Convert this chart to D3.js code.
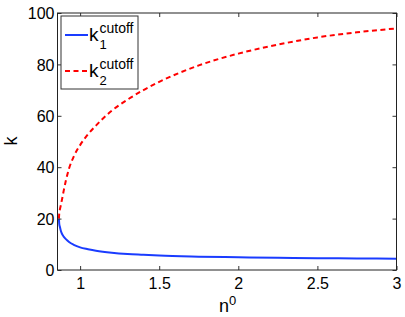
<!DOCTYPE html>
<html>
<head>
<meta charset="utf-8">
<script src="https://cdn.jsdelivr.net/npm/d3@7"></script>
<style>
  body { margin: 0; background: #fff; }
  text { font-family: "Liberation Sans", Arial, sans-serif; fill: #000; }
</style>
</head>
<body>
<svg width="405" height="317"></svg>
<script>
// n0 sample points and the two cutoff curves
var n0 = [0.866, 0.868, 0.872, 0.878, 0.886, 0.896, 0.91, 0.93, 0.96, 1.0, 1.05, 1.1, 1.2, 1.3, 1.4, 1.5, 1.75, 2.0, 2.25, 2.5, 2.75, 3.0];
var k1 = [20, 18, 16.8, 15.3, 14, 13, 12, 10.9, 9.8, 8.8, 8.1, 7.5, 6.7, 6.2, 5.9, 5.6, 5.2, 4.95, 4.75, 4.6, 4.5, 4.4];
var k2 = [20, 22, 23.5, 25.2, 27.6, 30.8, 34.8, 39.5, 44.2, 48.6, 52.8, 56.2, 62, 66.3, 70, 73.2, 79.6, 84.2, 87.7, 90.5, 92.5, 94];
var xTicks = [1, 1.5, 2, 2.5, 3];
var yTicks = [0, 20, 40, 60, 80, 100];

var svg = d3.select("svg");
var pLeft = 57.5, pRight = 396.5, pTop = 13, pBottom = 270;

var x = d3.scaleLinear().domain([0.857, 3]).range([pLeft, pRight]);
var y = d3.scaleLinear().domain([0, 100]).range([pBottom, pTop]);

var g = svg.append("g");

// curves
var line = d3.line()
  .x(function(d) { return x(d[0]); })
  .y(function(d) { return y(d[1]); })
  .curve(d3.curveMonotoneX);

g.append("path")
  .datum(n0.map(function(v, i) { return [v, k1[i]]; }))
  .attr("d", line)
  .attr("fill", "none")
  .attr("stroke", "#1a3cff")
  .attr("stroke-width", 2);

g.append("path")
  .datum(n0.map(function(v, i) { return [v, k2[i]]; }))
  .attr("d", line)
  .attr("fill", "none")
  .attr("stroke", "#ff0000")
  .attr("stroke-width", 2)
  .attr("stroke-dasharray", "5,3.5");

// axes (box with inward ticks on all four sides)
var xb = g.append("g").attr("transform", "translate(0," + pBottom + ")")
  .call(d3.axisBottom(x).tickValues(xTicks).tickSizeInner(-4).tickSizeOuter(0).tickPadding(8).tickFormat(d3.format("")));
var xt = g.append("g").attr("transform", "translate(0," + pTop + ")")
  .call(d3.axisTop(x).tickValues(xTicks).tickSizeInner(-4).tickSizeOuter(0).tickFormat(""));
var yl = g.append("g").attr("transform", "translate(" + pLeft + ",0)")
  .call(d3.axisLeft(y).tickValues(yTicks).tickSizeInner(-4).tickSizeOuter(0).tickPadding(3));
var yr = g.append("g").attr("transform", "translate(" + pRight + ",0)")
  .call(d3.axisRight(y).tickValues(yTicks).tickSizeInner(-4).tickSizeOuter(0).tickFormat(""));

[xb, xt, yl, yr].forEach(function(a) {
  a.select(".domain").remove();
  a.selectAll("line").attr("stroke", "#333");
  a.selectAll("text").attr("font-size", "16px").attr("font-family", "Liberation Sans, Arial, sans-serif").attr("fill", "#000");
});
yl.selectAll("text").attr("dy", "0.36em");

g.append("rect")
  .attr("x", pLeft).attr("y", pTop)
  .attr("width", pRight - pLeft).attr("height", pBottom - pTop)
  .attr("fill", "none").attr("stroke", "#222").attr("stroke-width", 1);

// axis labels
var xl = svg.append("text").attr("x", 219).attr("y", 311.5).attr("font-size", "18px");
xl.append("tspan").text("n");
xl.append("tspan").attr("font-size", "13px").attr("dy", -7).text("0");

svg.append("text")
  .attr("transform", "translate(17,141) rotate(-90)")
  .attr("text-anchor", "middle")
  .attr("font-size", "18px")
  .text("k");

// legend
var leg = svg.append("g");
leg.append("rect")
  .attr("x", 61).attr("y", 16).attr("width", 77).attr("height", 73)
  .attr("fill", "#fff").attr("stroke", "#333").attr("stroke-width", 1);

var items = [
  { sub: "1", color: "#1a3cff", dash: null, ly: 35 },
  { sub: "2", color: "#ff0000", dash: "5,3.5", ly: 71 }
];
items.forEach(function(it) {
  leg.append("line")
    .attr("x1", 65).attr("x2", 88).attr("y1", it.ly).attr("y2", it.ly)
    .attr("stroke", it.color).attr("stroke-width", 2)
    .attr("stroke-dasharray", it.dash);
  leg.append("text").attr("x", 89).attr("y", it.ly + 6).attr("font-size", "19px").text("k");
  leg.append("text").attr("x", 99.5).attr("y", it.ly + 14).attr("font-size", "13px").text(it.sub);
  leg.append("text").attr("x", 99.5).attr("y", it.ly - 2.5).attr("font-size", "14px").text("cutoff");
});
</script>
</body>
</html>
